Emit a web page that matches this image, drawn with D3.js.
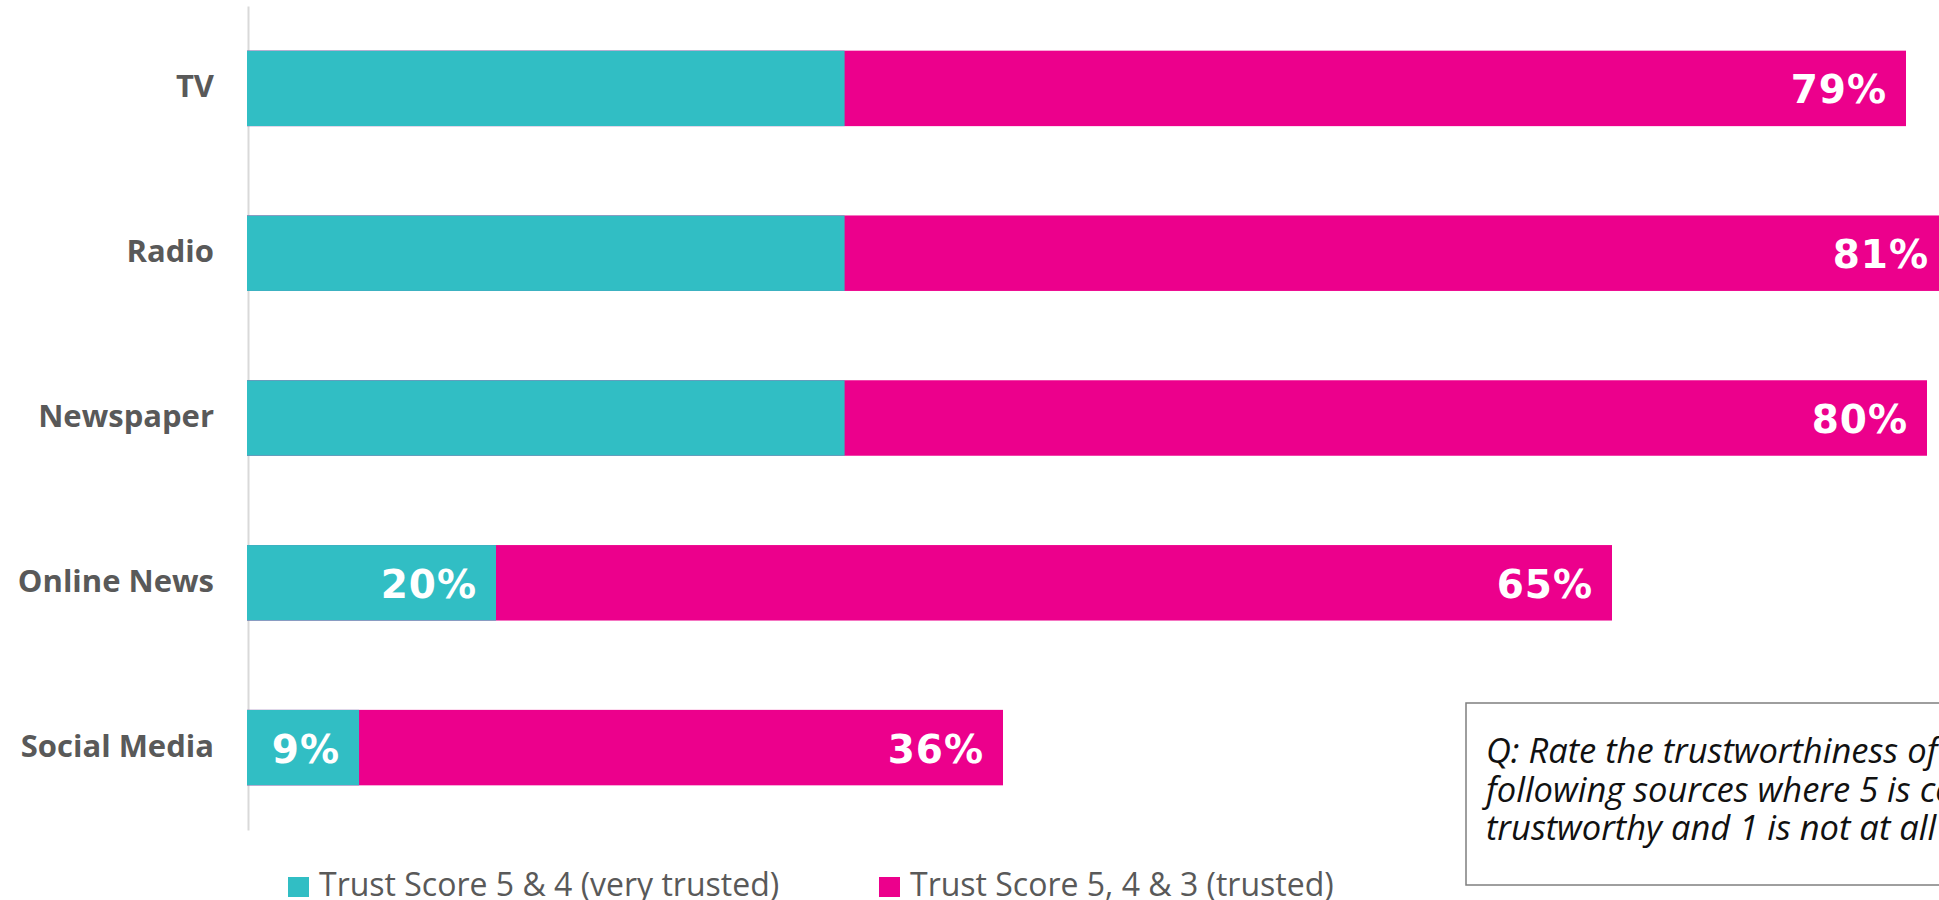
<!DOCTYPE html>
<meta charset="utf-8">
<head>
  <title>Trust in news sources</title>
  <script src="https://d3js.org/d3.v7.min.js"></script>
  <style>
    body { margin: 0; background: #fff; overflow: hidden; }
    .cat text { font-family: "Open Sans", sans-serif; font-weight: 700; font-size: 31px; fill: #595959; }
    .val { font-family: "DejaVu Sans", sans-serif; font-weight: 700; font-size: 39px; fill: #fff; letter-spacing: 1px; }
    .legend text { font-family: "Open Sans", sans-serif; font-size: 32px; fill: #595959; }
    .note text { font-family: "Open Sans", sans-serif; font-style: italic; font-size: 34.5px; fill: #111; }
  </style>
</head>
<body>
<div id="chart"></div>
<script>
// data
const categories = ["TV", "Radio", "Newspaper", "Online News", "Social Media"];
const veryTrusted = [48, 48, 48, 20, 9];       // Trust Score 5 & 4
const trusted = [79, 81, 80, 65, 36];          // Trust Score 5, 4 & 3
const veryTrustedLabelled = ["Online News", "Social Media"];
const seriesNames = ["Trust Score 5 & 4 (very trusted)", "Trust Score 5, 4 & 3 (trusted)"];
const noteLines = [
  "Q: Rate the trustworthiness of the",
  "following sources where 5 is completely",
  "trustworthy and 1 is not at all trustworthy"
];

const teal = "#31bec4", pink = "#ec008c";
const width = 1939, height = 900;

const svg = d3.select("#chart").append("svg")
  .attr("width", width)
  .attr("height", height);

const data = categories.map((c, i) => ({cat: c, very: veryTrusted[i], all: trusted[i]}));

// bands
const y = d3.scaleBand()
  .domain(categories)
  .range([6, 830])
  .paddingInner(0.542)
  .paddingOuter(0.271);

// two overlapping series on separate scales (primary / secondary axis)
const xPink = d3.scaleLinear().domain([0, 100]).range([247, 247 + 2100]);
const xTeal = d3.scaleLinear().domain([0, 100]).range([247, 247 + 1245]);

// category axis
const axis = svg.append("g")
  .attr("class", "cat")
  .attr("transform", "translate(248,0)")
  .call(d3.axisLeft(y).tickSize(0).tickPadding(34));
axis.select(".domain").attr("stroke", "#d9d9d9").attr("stroke-width", 2);
axis.selectAll("text").attr("dy", "0.29em");

// pink bars (behind)
svg.append("g").selectAll("rect")
  .data(data)
  .enter().append("rect")
    .attr("x", xPink(0))
    .attr("y", d => y(d.cat))
    .attr("width", d => xPink(d.all) - xPink(0))
    .attr("height", y.bandwidth())
    .attr("fill", pink);

// teal bars (on top)
svg.append("g").selectAll("rect")
  .data(data)
  .enter().append("rect")
    .attr("x", xTeal(0))
    .attr("y", d => y(d.cat))
    .attr("width", d => xTeal(d.very) - xTeal(0))
    .attr("height", y.bandwidth())
    .attr("fill", teal);

// value labels
svg.append("g").selectAll("text")
  .data(data)
  .enter().append("text")
    .attr("class", "val")
    .attr("text-anchor", "end")
    .attr("x", d => xPink(d.all) - 19)
    .attr("y", d => y(d.cat) + y.bandwidth() / 2 + 15)
    .text(d => d.all + "%");

svg.append("g").selectAll("text")
  .data(data.filter(d => veryTrustedLabelled.includes(d.cat)))
  .enter().append("text")
    .attr("class", "val")
    .attr("text-anchor", "end")
    .attr("x", d => xTeal(d.very) - 19)
    .attr("y", d => y(d.cat) + y.bandwidth() / 2 + 15)
    .text(d => d.very + "%");

// legend
const legend = svg.append("g").attr("class", "legend");
const legendX = [288, 879];
[teal, pink].forEach((col, i) => {
  legend.append("rect")
    .attr("x", legendX[i]).attr("y", 877)
    .attr("width", 21).attr("height", 20)
    .attr("fill", col);
  legend.append("text")
    .attr("x", legendX[i] + 31).attr("y", 896)
    .text(seriesNames[i]);
});

// question box
const note = svg.append("g").attr("class", "note");
note.append("rect")
  .attr("x", 1466).attr("y", 703)
  .attr("width", 700).attr("height", 182)
  .attr("fill", "none")
  .attr("stroke", "#7f7f7f")
  .attr("stroke-width", 1.5);
note.selectAll("text.line")
  .data(noteLines)
  .enter().append("text")
    .attr("class", "line")
    .attr("x", 1486)
    .attr("y", (d, i) => 763 + i * 38.5)
    .text(d => d);
</script>
</body>
